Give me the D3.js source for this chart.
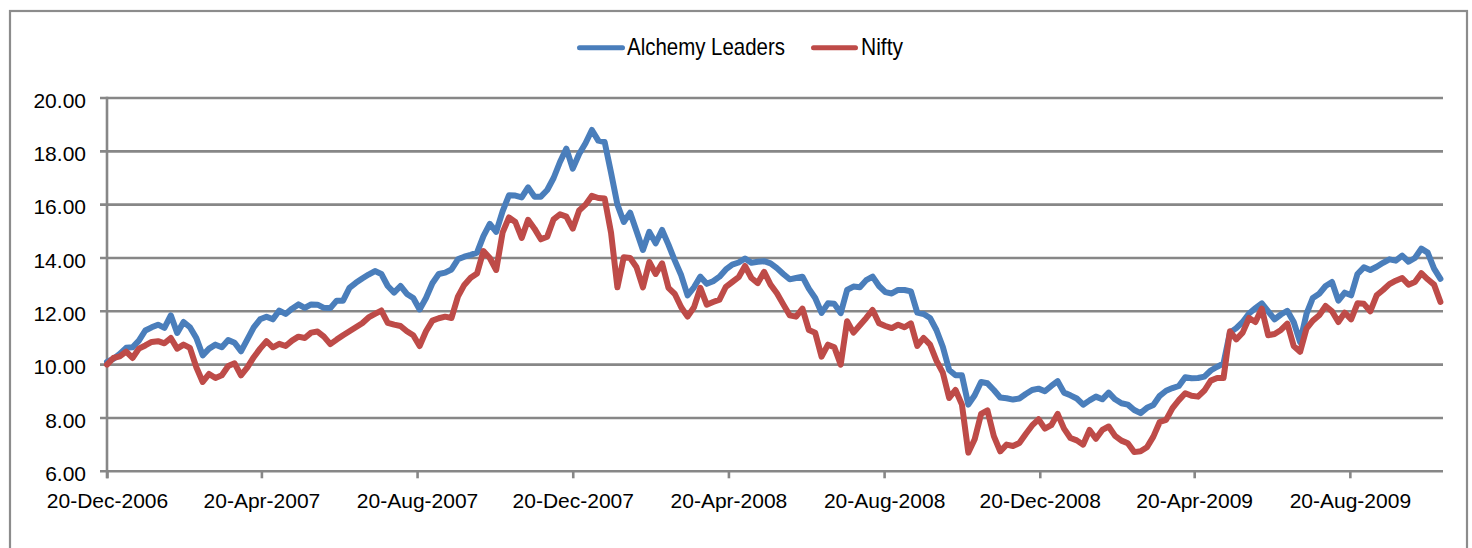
<!DOCTYPE html>
<html>
<head>
<meta charset="utf-8">
<script src="https://cdn.jsdelivr.net/npm/d3@7/dist/d3.min.js"></script>
<style>
  html, body { margin: 0; padding: 0; background: #ffffff; }
  svg { display: block; }
  .tick-label { font-family: "Liberation Sans", Arial, sans-serif; font-size: 21px; fill: #000; }
  .legend-label { font-family: "Liberation Sans", Arial, sans-serif; font-size: 24px; fill: #000; }
</style>
</head>
<body>
<svg id="chart" width="1472" height="548"></svg>
<script>
// Series start date; observations are spaced every five calendar days.
const startDate = new Date(2006, 11, 20);
const stepDays = 5;
const axisEndDate = new Date(2009, 10, 1);

const seriesNames = ["Alchemy Leaders", "Nifty"];
const seriesColors = ["#4A7EBB", "#BE4B48"];

const alchemyLeaders = [
  10.10, 10.22, 10.40, 10.63, 10.65, 10.90, 11.28, 11.40, 11.50, 11.38,
  11.85, 11.19, 11.60, 11.40, 11.00, 10.35, 10.60, 10.75, 10.65, 10.92,
  10.82, 10.50, 10.95, 11.40, 11.70, 11.80, 11.70, 12.03, 11.90, 12.10,
  12.26, 12.13, 12.26, 12.25, 12.13, 12.12, 12.40, 12.40, 12.88, 13.07,
  13.23, 13.38, 13.51, 13.40, 12.95, 12.70, 12.95, 12.65, 12.50, 12.07,
  12.50, 13.05, 13.40, 13.45, 13.57, 13.95, 14.05, 14.12, 14.20, 14.82,
  15.28, 14.98, 15.75, 16.35, 16.34, 16.27, 16.65, 16.30, 16.30, 16.55,
  17.00, 17.60, 18.10, 17.35, 17.90, 18.30, 18.80, 18.40, 18.35, 17.20,
  16.00, 15.35, 15.70, 15.00, 14.30, 14.98, 14.55, 15.05, 14.50, 13.90,
  13.35, 12.60, 12.90, 13.30, 13.03, 13.13, 13.30, 13.57, 13.75, 13.83,
  13.98, 13.82, 13.86, 13.88, 13.80, 13.62, 13.40, 13.20, 13.25, 13.30,
  12.85, 12.50, 11.94, 12.30, 12.28, 11.93, 12.80, 12.93, 12.90, 13.17,
  13.30, 12.95, 12.72, 12.67, 12.80, 12.80, 12.75, 11.95, 11.90, 11.75,
  11.30, 10.67, 9.80, 9.60, 9.60, 8.50, 8.85, 9.35, 9.30, 9.05,
  8.77, 8.74, 8.69, 8.73, 8.90, 9.05, 9.10, 9.00, 9.20, 9.38,
  8.95, 8.85, 8.73, 8.50, 8.66, 8.80, 8.70, 8.95, 8.70, 8.55,
  8.50, 8.30, 8.18, 8.38, 8.49, 8.83, 9.02, 9.12, 9.20, 9.53,
  9.49, 9.50, 9.55, 9.78, 9.92, 10.05, 11.20, 11.37, 11.60, 11.92,
  12.12, 12.30, 12.00, 11.70, 11.88, 12.02, 11.60, 10.85, 11.90, 12.50,
  12.66, 12.95, 13.10, 12.40, 12.70, 12.60, 13.40, 13.65, 13.55, 13.67,
  13.82, 13.95, 13.90, 14.09, 13.86, 14.00, 14.35, 14.20, 13.60, 13.22
];

const nifty = [
  10.00, 10.25, 10.31, 10.49, 10.25, 10.60, 10.72, 10.85, 10.88, 10.80,
  11.00, 10.60, 10.75, 10.63, 9.90, 9.35, 9.65, 9.50, 9.60, 9.95,
  10.05, 9.60, 9.90, 10.28, 10.60, 10.88, 10.65, 10.78, 10.70, 10.90,
  11.05, 11.00, 11.20, 11.24, 11.05, 10.77, 10.94, 11.10, 11.25, 11.40,
  11.55, 11.77, 11.90, 12.03, 11.57, 11.50, 11.45, 11.25, 11.10, 10.70,
  11.25, 11.65, 11.74, 11.80, 11.75, 12.55, 12.99, 13.26, 13.42, 14.26,
  14.00, 13.55, 14.95, 15.52, 15.35, 14.75, 15.43, 15.10, 14.70, 14.80,
  15.45, 15.64, 15.55, 15.10, 15.78, 16.00, 16.33, 16.25, 16.23, 14.95,
  12.90, 14.03, 14.00, 13.65, 12.90, 13.85, 13.40, 13.80, 12.88, 12.65,
  12.15, 11.80, 12.15, 12.88, 12.25, 12.35, 12.44, 12.92, 13.10, 13.28,
  13.70, 13.25, 13.06, 13.48, 13.00, 12.68, 12.26, 11.85, 11.80, 12.10,
  11.30, 11.20, 10.30, 10.75, 10.65, 10.00, 11.63, 11.20, 11.48, 11.75,
  12.05, 11.55, 11.45, 11.37, 11.50, 11.40, 11.55, 10.70, 11.00, 10.75,
  10.15, 9.70, 8.75, 9.05, 8.50, 6.70, 7.20, 8.15, 8.28, 7.32,
  6.75, 7.00, 6.95, 7.06, 7.40, 7.72, 7.95, 7.60, 7.73, 8.15,
  7.60, 7.25, 7.16, 7.00, 7.55, 7.22, 7.55, 7.68, 7.33, 7.15,
  7.05, 6.72, 6.75, 6.90, 7.30, 7.85, 7.93, 8.37, 8.67, 8.93,
  8.83, 8.80, 9.03, 9.40, 9.50, 9.50, 11.25, 10.95, 11.20, 11.75,
  11.60, 12.10, 11.10, 11.15, 11.30, 11.54, 10.70, 10.48, 11.35, 11.65,
  11.85, 12.20, 12.00, 11.60, 11.95, 11.70, 12.30, 12.28, 12.00, 12.60,
  12.80, 13.02, 13.15, 13.25, 13.00, 13.10, 13.43, 13.20, 13.00, 12.35
];

const yTickValues = [6, 8, 10, 12, 14, 16, 18, 20];
const xTickLabels = [
  "20-Dec-2006", "20-Apr-2007", "20-Aug-2007", "20-Dec-2007", "20-Apr-2008",
  "20-Aug-2008", "20-Dec-2008", "20-Apr-2009", "20-Aug-2009"
];

// ---- build the dataset ----
const parseLabel = d3.timeParse("%d-%b-%Y");
const formatLabel = d3.timeFormat("%d-%b-%Y");
const xTickDates = xTickLabels.map(parseLabel);
const dates = alchemyLeaders.map((_, i) => d3.timeDay.offset(startDate, i * stepDays));
const series = [alchemyLeaders, nifty].map((vals, k) => ({
  name: seriesNames[k],
  color: seriesColors[k],
  points: vals.map((v, i) => ({ date: dates[i], value: v }))
}));

// ---- layout ----
const plot = { left: 107, right: 1443, top: 98, bottom: 471.3 };
const gridColor = "#878787";

const svg = d3.select("#chart");

// outer chart frame (bottom edge runs past the visible area)
svg.append("rect")
  .attr("x", 10).attr("y", 11)
  .attr("width", 1457).attr("height", 570)
  .attr("fill", "none")
  .attr("stroke", "#8c8c8c")
  .attr("stroke-width", 2.2);

const x = d3.scaleTime().domain([startDate, axisEndDate]).range([plot.left, plot.right]);
const y = d3.scaleLinear().domain([6, 20]).range([plot.bottom, plot.top]);

// horizontal gridlines with short tick stubs left of the axis
svg.append("g")
  .selectAll("line")
  .data(yTickValues)
  .join("line")
  .attr("x1", plot.left - 7)
  .attr("x2", plot.right)
  .attr("y1", d => y(d))
  .attr("y2", d => y(d))
  .attr("stroke", gridColor)
  .attr("stroke-width", 2.6);

// y axis labels
const yAxis = d3.axisLeft(y).tickValues(yTickValues).tickFormat(d3.format(".2f")).tickSize(0).tickPadding(21);
const yAxisG = svg.append("g").attr("transform", `translate(${plot.left},0)`).call(yAxis);
yAxisG.select(".domain").remove();
yAxisG.selectAll("text").attr("class", "tick-label").attr("dy", "0.44em");

// vertical axis line
svg.append("line")
  .attr("x1", plot.left).attr("x2", plot.left)
  .attr("y1", plot.top - 1.3).attr("y2", plot.bottom + 7)
  .attr("stroke", gridColor).attr("stroke-width", 2.6);

// x axis ticks and labels
const xAxis = d3.axisBottom(x).tickValues(xTickDates).tickFormat(formatLabel).tickSizeInner(7).tickSizeOuter(0).tickPadding(28);
const xAxisG = svg.append("g").attr("transform", `translate(0,${plot.bottom})`).call(xAxis);
xAxisG.select(".domain").remove();
xAxisG.selectAll(".tick line").attr("stroke", gridColor).attr("stroke-width", 2.6);
xAxisG.selectAll("text").attr("class", "tick-label").attr("dy", "0.1em");

// series lines
const line = d3.line().x(d => x(d.date)).y(d => y(d.value));
svg.append("g")
  .selectAll("path")
  .data(series)
  .join("path")
  .attr("d", d => line(d.points))
  .attr("fill", "none")
  .attr("stroke", d => d.color)
  .attr("stroke-width", 6)
  .attr("stroke-linejoin", "round")
  .attr("stroke-linecap", "round");

// legend: condensed labels fitted to fixed widths
const legendItems = [
  { x: 579.5, lineLen: 43, textX: 627, textLen: 158 },
  { x: 813.5, lineLen: 42, textX: 861, textLen: 42 }
];
const legend = svg.append("g");
legend.selectAll("line")
  .data(series)
  .join("line")
  .attr("x1", (d, i) => legendItems[i].x)
  .attr("x2", (d, i) => legendItems[i].x + legendItems[i].lineLen)
  .attr("y1", 47.7).attr("y2", 47.7)
  .attr("stroke", d => d.color)
  .attr("stroke-width", 5)
  .attr("stroke-linecap", "round");
legend.selectAll("text")
  .data(series)
  .join("text")
  .attr("class", "legend-label")
  .attr("x", (d, i) => legendItems[i].textX)
  .attr("y", 55)
  .attr("textLength", (d, i) => legendItems[i].textLen)
  .attr("lengthAdjust", "spacingAndGlyphs")
  .text(d => d.name);
</script>
</body>
</html>
